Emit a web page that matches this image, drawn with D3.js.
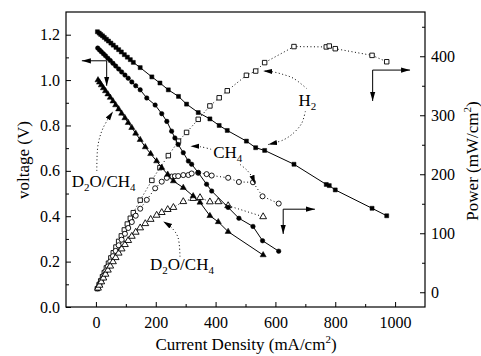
<!DOCTYPE html>
<html>
<head>
<meta charset="utf-8">
<script src="https://cdn.jsdelivr.net/npm/d3@7"></script>
<style>
  body { margin: 0; background: #fff; }
  svg { font-family: "Liberation Serif", "Times New Roman", serif; }
</style>
</head>
<body>
<div id="chart"></div>
<script>
// values: current density (mA/cm2), voltage (V), power (mW/cm2)
const h2Current = [5, 11, 16, 22, 28, 35, 42, 50, 58, 67, 76, 85, 95, 105, 115, 125, 148, 187, 214, 242, 276, 303, 342, 381, 412, 439, 503, 534, 564, 662, 770, 780, 800, 923, 972];
const h2Voltage = [1.213, 1.207, 1.201, 1.195, 1.188, 1.180, 1.172, 1.163, 1.154, 1.144, 1.134, 1.124, 1.112, 1.101, 1.090, 1.078, 1.055, 1.014, 0.987, 0.957, 0.928, 0.894, 0.857, 0.829, 0.800, 0.778, 0.731, 0.702, 0.690, 0.629, 0.540, 0.535, 0.516, 0.435, 0.402];
const h2Power = [6.1, 13.3, 19.2, 26.3, 33.3, 41.3, 49.2, 58.2, 66.9, 76.6, 86.2, 95.5, 105.6, 115.6, 125.4, 134.8, 156.1, 189.6, 211.2, 231.6, 256.1, 270.9, 293.1, 315.8, 329.6, 341.5, 367.7, 374.9, 389.2, 416.4, 415.8, 417.3, 412.8, 401.5, 390.7];

const ch4Current = [6, 12, 18, 25, 32, 40, 48, 57, 66, 76, 86, 97, 108, 120, 133, 148, 170, 198, 220, 237, 253, 264, 275, 292, 309, 320, 342, 370, 387, 442, 478, 525, 557, 611];
const ch4Voltage = [1.141, 1.133, 1.125, 1.116, 1.107, 1.096, 1.086, 1.074, 1.062, 1.049, 1.036, 1.022, 1.008, 0.992, 0.975, 0.957, 0.921, 0.890, 0.852, 0.818, 0.775, 0.745, 0.716, 0.680, 0.643, 0.629, 0.592, 0.541, 0.511, 0.439, 0.391, 0.355, 0.292, 0.246];
const ch4Power = [6.8, 13.6, 20.3, 27.9, 35.4, 43.8, 52.1, 61.2, 70.1, 79.7, 89.1, 99.1, 108.9, 119.0, 129.7, 141.6, 156.6, 176.2, 187.4, 193.9, 196.1, 196.7, 196.9, 198.6, 198.7, 201.3, 202.5, 200.2, 197.8, 194.0, 186.9, 186.4, 162.6, 150.3];

const d2oCurrent = [7, 12, 18, 25, 32, 40, 48, 57, 66, 76, 86, 97, 108, 120, 133, 148, 165, 183, 203, 220, 240, 259, 292, 325, 348, 381, 409, 442, 559];
const d2oVoltage = [1.000, 0.990, 0.978, 0.965, 0.952, 0.938, 0.923, 0.907, 0.890, 0.872, 0.853, 0.833, 0.812, 0.790, 0.765, 0.737, 0.705, 0.675, 0.643, 0.614, 0.584, 0.555, 0.526, 0.489, 0.461, 0.402, 0.375, 0.332, 0.229];
const d2oPower = [7.0, 11.9, 17.6, 24.1, 30.5, 37.5, 44.3, 51.7, 58.7, 66.3, 73.4, 80.8, 87.7, 94.8, 101.7, 109.1, 116.3, 123.5, 130.5, 135.1, 140.2, 143.7, 153.6, 158.9, 160.4, 153.2, 153.4, 146.7, 128.0];

// tick labels
const currentTicks = [0, 200, 400, 600, 800, 1000];
const currentMinor = [100, 300, 500, 700, 900];
const voltageTicks = [0.0, 0.2, 0.4, 0.6, 0.8, 1.0, 1.2];
const voltageMinor = [0.1, 0.3, 0.5, 0.7, 0.9, 1.1];
const powerTicks = [0, 100, 200, 300, 400];
const powerMinor = [50, 150, 250, 350, 450];

const width = 481, height = 356;
const margin = {top: 12, right: 56, bottom: 49, left: 66};

const svg = d3.select("#chart").append("svg")
    .attr("width", width)
    .attr("height", height);

const x = d3.scaleLinear().domain([-100, 1100]).range([margin.left, width - margin.right]);
const yV = d3.scaleLinear().domain([0, 1.3]).range([height - margin.bottom, margin.top]);
const yP = d3.scaleLinear().domain([-25, 475]).range([height - margin.bottom, margin.top]);

// arrow head
svg.append("defs").append("marker")
    .attr("id", "head")
    .attr("viewBox", "0 -4 9 8")
    .attr("refX", 9).attr("refY", 0)
    .attr("markerWidth", 9).attr("markerHeight", 8)
    .attr("markerUnits", "userSpaceOnUse")
    .attr("orient", "auto")
    .append("path")
    .attr("d", "M0,-2.6L9,0L0,2.6Z")
    .attr("fill", "#000");

// axes (ticks point inward)
function styleAxis(g) {
    g.select(".domain").remove();
    g.selectAll("text").attr("font-size", 16).attr("font-family", "Liberation Serif, Times New Roman, serif").attr("fill", "#000");
    g.selectAll("line").attr("stroke", "#000");
}
const bottom = height - margin.bottom;
svg.append("g").attr("transform", `translate(0,${bottom})`)
    .call(d3.axisBottom(x).tickValues(currentTicks).tickSize(-5).tickPadding(10).tickFormat(d3.format("d")))
    .call(styleAxis);
svg.append("g").attr("transform", `translate(0,${bottom})`)
    .call(d3.axisBottom(x).tickValues(currentMinor).tickSize(-3).tickFormat(""))
    .call(styleAxis);
svg.append("g").attr("transform", `translate(${margin.left},0)`)
    .call(d3.axisLeft(yV).tickValues(voltageTicks).tickSize(-5).tickPadding(6).tickFormat(d3.format(".1f")))
    .call(styleAxis);
svg.append("g").attr("transform", `translate(${margin.left},0)`)
    .call(d3.axisLeft(yV).tickValues(voltageMinor).tickSize(-3).tickFormat(""))
    .call(styleAxis);
svg.append("g").attr("transform", `translate(${width - margin.right},0)`)
    .call(d3.axisRight(yP).tickValues(powerTicks).tickSize(-5).tickPadding(6).tickFormat(d3.format("d")))
    .call(styleAxis);
svg.append("g").attr("transform", `translate(${width - margin.right},0)`)
    .call(d3.axisRight(yP).tickValues(powerMinor).tickSize(-3).tickFormat(""))
    .call(styleAxis);

svg.append("rect")
    .attr("x", margin.left).attr("y", margin.top)
    .attr("width", width - margin.left - margin.right)
    .attr("height", height - margin.top - margin.bottom)
    .attr("fill", "none").attr("stroke", "#000").attr("stroke-width", 1.2);

// one curve: line + markers
function drawSeries(current, values, yScale, symbolType, filled) {
    const pts = current.map((c, i) => [x(c), yScale(values[i])]);
    svg.append("path")
        .attr("d", d3.line()(pts))
        .attr("fill", "none")
        .attr("stroke", "#000")
        .attr("stroke-width", 1)
        .attr("stroke-dasharray", filled ? null : "1,2.5");
    svg.append("g").selectAll("path")
        .data(pts)
        .join("path")
        .attr("transform", d => `translate(${d[0]},${d[1]})`)
        .attr("d", d3.symbol().type(symbolType).size(filled ? 16 : 20))
        .attr("fill", filled ? "#000" : "#fff")
        .attr("stroke", "#000")
        .attr("stroke-width", filled ? 0.5 : 0.9);
}

drawSeries(h2Current, h2Power, yP, d3.symbolSquare, false);
drawSeries(ch4Current, ch4Power, yP, d3.symbolCircle, false);
drawSeries(d2oCurrent, d2oPower, yP, d3.symbolTriangle, false);
drawSeries(h2Current, h2Voltage, yV, d3.symbolSquare, true);
drawSeries(ch4Current, ch4Voltage, yV, d3.symbolCircle, true);
drawSeries(d2oCurrent, d2oVoltage, yV, d3.symbolTriangle, true);

// annotation arrows, positioned in (current, voltage) units
const cornerArrows = [
    {corner: [36, 1.085], side: [-47, 1.085], down: [36, 0.975]},
    {corner: [925, 1.044], side: [1050, 1.044], down: [925, 0.908]},
    {corner: [626, 0.431], side: [732, 0.431], down: [626, 0.322]}
];
cornerArrows.forEach(a => {
    [a.side, a.down].forEach(end => {
        svg.append("line")
            .attr("x1", x(a.corner[0])).attr("y1", yV(a.corner[1]))
            .attr("x2", x(end[0])).attr("y2", yV(end[1]))
            .attr("stroke", "#000").attr("stroke-width", 1)
            .attr("marker-end", "url(#head)");
    });
});

const pointers = [
    [[705, 0.962], [660, 1.008], [625, 1.025], [592, 1.036], [559, 1.040]],
    [[700, 0.862], [688, 0.810], [660, 0.766], [626, 0.736], [576, 0.716]],
    [[385, 0.695], [350, 0.706], [316, 0.708]],
    [[482, 0.628], [504, 0.604], [521, 0.575], [532, 0.542]],
    [[3, 0.600], [7, 0.714], [24, 0.789], [57, 0.861]],
    [[281, 0.222], [274, 0.308], [254, 0.348], [225, 0.377]]
];
const curve = d3.line().x(d => x(d[0])).y(d => yV(d[1])).curve(d3.curveCatmullRom);
pointers.forEach(p => {
    svg.append("path")
        .attr("d", curve(p))
        .attr("fill", "none")
        .attr("stroke", "#000")
        .attr("stroke-width", 1)
        .attr("stroke-dasharray", "1,2.5")
        .attr("marker-end", "url(#head)");
});

// labels with sub/superscripts
function richText(g, parts, size) {
    parts.forEach(([txt, kind], i) => {
        const prev = i > 0 ? parts[i - 1][1] : null;
        let dy = 0;
        if (kind === "sub") dy = 4;
        else if (kind === "sup") dy = -7;
        if (prev === "sub") dy -= 4;
        else if (prev === "sup") dy += 7;
        g.append("tspan")
            .attr("dy", dy)
            .attr("font-size", kind ? 11 : size)
            .text(txt);
    });
}

const labels = [
    {at: [-81, 0.529], parts: [["D"], ["2", "sub"], ["O/CH"], ["4", "sub"]]},
    {at: [392, 0.655], parts: [["CH"], ["4", "sub"]]},
    {at: [677, 0.886], parts: [["H"], ["2", "sub"]]},
    {at: [181, 0.163], parts: [["D"], ["2", "sub"], ["O/CH"], ["4", "sub"]]}
];
labels.forEach(l => {
    const t = svg.append("text")
        .attr("x", x(l.at[0])).attr("y", yV(l.at[1]))
        .attr("fill", "#000");
    richText(t, l.parts, 17);
});

// axis titles
const xTitle = svg.append("text")
    .attr("x", 246).attr("y", 350)
    .attr("text-anchor", "middle");
richText(xTitle, [["Current Density (mA/cm"], ["2", "sup"], [")"]], 17);

svg.append("text")
    .attr("transform", "translate(29,160) rotate(-90)")
    .attr("text-anchor", "middle")
    .attr("font-size", 17)
    .text("voltage (V)");

const pTitle = svg.append("text")
    .attr("transform", "translate(478,161) rotate(-90)")
    .attr("text-anchor", "middle");
richText(pTitle, [["Power (mW/cm"], ["2", "sup"], [")"]], 17);
</script>
</body>
</html>
